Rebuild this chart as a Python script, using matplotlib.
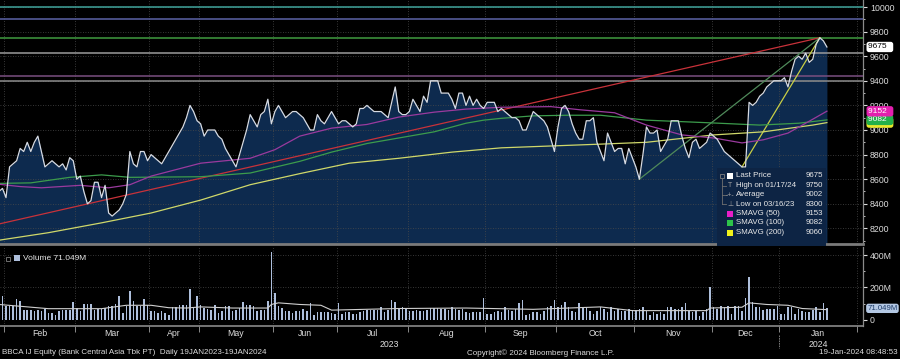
import numpy as np
import matplotlib
matplotlib.use('Agg')
import matplotlib.pyplot as plt
from matplotlib.patches import Rectangle
from matplotlib.lines import Line2D
from matplotlib.transforms import blended_transform_factory
from matplotlib.ticker import FixedLocator, MultipleLocator, FuncFormatter

plt.rcParams['font.family'] = ['Liberation Sans', 'DejaVu Sans']

##### values, x = trading day number (day 0 = 19 Jan 2023)
price_start = 5
price_close = [8750, 8700, 8500, 8525, 8450, 8700, 8725, 8750, 8850, 8825,
               8900, 8825, 8900, 8950, 8825, 8700, 8725, 8750, 8725, 8700,
               8725, 8675, 8775, 8750, 8600, 8625, 8500, 8400, 8425, 8575,
               8575, 8450, 8550, 8325, 8300, 8325, 8350, 8400, 8475, 8825,
               8725, 8700, 8825, 8825, 8750, 8800, 8775, 8750, 8725, 8775,
               8825, 8875, 8925, 8975, 9025, 9100, 9200, 9150, 9075, 9050,
               8950, 9000, 9000, 9000, 8950, 8925, 8850, 8800, 8750, 8700,
               8800, 8900, 9000, 9125, 9075, 9025, 9125, 9150, 9250, 9050,
               9150, 9200, 9150, 9100, 9125, 9150, 9150, 9125, 9100, 9050,
               9000, 9000, 9125, 9075, 9050, 9100, 9150, 9100, 9050, 9075,
               9075, 9050, 9025, 9050, 9175, 9175, 9200, 9175, 9150, 9150,
               9150, 9125, 9100, 9225, 9350, 9150, 9125, 9125, 9150, 9250,
               9200, 9150, 9275, 9225, 9400, 9400, 9400, 9300, 9300, 9300,
               9250, 9175, 9300, 9300, 9200, 9275, 9200, 9250, 9200, 9175,
               9225, 9225, 9225, 9150, 9175, 9150, 9125, 9100, 9100, 9075,
               9000, 9000, 9075, 9150, 9125, 9100, 9075, 9025, 8925, 8825,
               9025, 9175, 9200, 9150, 9050, 8975, 8925, 8925, 9075, 9075,
               9100, 8900, 8825, 8750, 8975, 8900, 8825, 8850, 8850, 8725,
               8850, 8775, 8700, 8600, 8800, 9025, 8975, 8975, 9000, 8825,
               8875, 8925, 9075, 9075, 9075, 8950, 8850, 8775, 8900, 8925,
               8850, 8875, 8900, 8975, 8950, 8925, 8875, 8825, 8800, 8775,
               8750, 8725, 8700, 8700, 9225, 9200, 9225, 9275, 9300, 9350,
               9375, 9400, 9400, 9400, 9425, 9350, 9475, 9575, 9600, 9575,
               9625, 9550, 9575, 9700, 9750, 9725, 9675]

vol_start = 8
volume_m = [147, 84, 84, 84, 126, 115, 63, 63, 63, 52,
            63, 52, 69, 42, 42, 31, 57, 63, 63, 63,
            111, 73, 57, 99, 99, 99, 63, 69, 69, 73,
            84, 84, 99, 147, 42, 84, 178, 115, 84, 84,
            126, 94, 57, 52, 42, 52, 42, 31, 78, 78,
            94, 90, 94, 189, 73, 147, 94, 73, 69, 63,
            94, 42, 52, 84, 84, 52, 63, 73, 111, 94,
            94, 84, 57, 63, 63, 115, 420, 168, 84, 73,
            57, 52, 42, 52, 57,
            67, 57, 105, 29, 50, 46, 46, 46, 40, 36,
            105, 36, 46, 46, 36, 36, 46, 57, 61, 61,
            61, 63, 82, 46, 61, 120, 109, 71, 78, 73,
            57, 57, 61, 57, 57, 61, 73, 73, 73, 67,
            67, 61, 78, 67, 63, 67, 46, 42, 46, 46,
            46, 136, 36, 36, 46, 57, 46, 78, 63, 57,
            67, 105, 120, 29, 36, 46, 46, 36, 57, 78,
            88, 120, 82, 92, 109, 78, 57, 50, 105, 78,
            78, 57, 36, 57,
            78, 67, 46, 78, 57, 67, 57, 57, 67,
            61, 61, 67, 78, 57, 29, 46, 36, 46, 36,
            78, 78, 67, 67, 78, 105, 57, 46, 57, 25,
            46, 67, 204, 78, 67, 88, 78, 88, 36, 88,
            84, 57, 136, 267, 109, 78, 78, 63, 67, 67,
            67, 88, 36, 36, 78, 78, 36, 67, 57, 46,
            50, 63, 78, 50, 105, 71.049]

vol_avg_day = [7, 21, 36, 43, 50, 55, 60, 64, 73, 83, 84, 86, 92, 98, 101,
               120, 139, 158, 168, 177, 186, 207, 208, 217, 219, 224, 230, 234, 241]
vol_avg_m = [95, 69, 69, 90, 90, 75, 73, 80, 73, 73, 95, 105, 95, 90, 60,
             70, 73, 65, 73, 80, 57, 57, 73, 78, 105, 95, 90, 70, 63]

sma50_day = [5, 13, 19, 30, 38, 44, 50, 64, 78, 85, 92, 101, 111, 120, 130, 139,
             149, 163, 171, 181, 190, 200, 209, 217, 223, 230, 235, 241]
sma50 = [8565, 8540, 8530, 8550, 8530, 8555, 8625, 8730, 8770, 8840, 8950, 9015,
         9045, 9105, 9145, 9170, 9185, 9190, 9165, 9140, 9040, 8960, 8935, 8895,
         8920, 8975, 9055, 9153]
sma100_day = [5, 16, 27, 36, 44, 64, 78, 92, 101, 111, 120, 130, 139, 144, 149,
              158, 168, 177, 190, 209, 222, 233, 241]
sma100 = [8565, 8570, 8615, 8635, 8615, 8620, 8650, 8745, 8820, 8890, 8935, 8985,
          9055, 9080, 9095, 9115, 9120, 9120, 9080, 9057, 9040, 9055, 9082]
sma200_day = [5, 21, 36, 50, 64, 78, 92, 106, 120, 135, 149, 163, 177, 190, 209,
              223, 237, 241]
sma200 = [8095, 8165, 8245, 8325, 8430, 8555, 8645, 8730, 8770, 8820, 8855, 8870,
          8885, 8900, 8960, 8985, 9040, 9060]

# trend lines drawn on the chart (start day, end day), (start price, end price)
trend_red = ([0, 239], [8190, 9750])
trend_green = ([188, 239], [8600, 9750])
trend_yellow = ([217, 239], [8700, 9750])

# horizontal level lines
levels = [10000, 9900, 9750, 9625, 9440, 9400]
level_colors = ['#3fa39a', '#5c63a6', '#3f9a3f', '#9a9a9a', '#7a4f80', '#8c8c8c']

month_first_day = [9, 29, 50, 64, 85, 103, 123, 145, 165, 187, 209, 228, 250]
month_names = ['Feb', 'Mar', 'Apr', 'May', 'Jun', 'Jul', 'Aug', 'Sep', 'Oct',
               'Nov', 'Dec', 'Jan']

legend_labels = ['Last Price', 'High on 01/17/24', 'Average', 'Low on 03/16/23',
                 'SMAVG (50)', 'SMAVG (100)', 'SMAVG (200)']
legend_values = ['9675', '9750', '9002', '8300', '9153', '9082', '9060']

TXT = '#dcdcdc'
GRID = '#4a4a4a'
NAVY = '#0d2a4e'


def fxy(x, y):
    # pixel position on the 900x359 picture -> figure fraction
    return x / 900.0, 1 - y / 359.0


fig = plt.figure(figsize=(9, 3.59), dpi=100, facecolor='black')
ax = fig.add_axes([0, 115 / 359, 863 / 900, 244 / 359], facecolor='black')
axv = fig.add_axes([0, 33 / 359, 863 / 900, 79 / 359], facecolor='black')

days = np.arange(price_start, price_start + len(price_close))
vdays = np.arange(vol_start, vol_start + len(volume_m))
bounds = np.array(month_first_day) - 0.5
centers = (bounds[:-1] + bounds[1:]) / 2

################### price panel
ax.fill_between(days, price_close, 7900, color=NAVY, lw=0, zorder=1)
for v in range(8200, 10001, 200):
    ax.axhline(v, color=GRID, lw=0.6, ls=(0, (1, 2)), zorder=2)
for b in bounds:
    ax.axvline(b, color=GRID, lw=0.6, ls=(0, (1, 2)), zorder=2)
for lvl, c in zip(levels, level_colors):
    ax.axhline(lvl, color=c, lw=1.1, zorder=3)

ax.plot(*trend_red, color='#c8323a', lw=0.9, zorder=4)
ax.plot(*trend_green, color='#4f8a5a', lw=0.9, zorder=4)
ax.plot(*trend_yellow, color='#c9cf45', lw=0.9, zorder=4)
ax.plot(sma200_day, sma200, color='#cfd86a', lw=0.9, zorder=4)
ax.plot(sma100_day, sma100, color='#3c9c4c', lw=0.9, zorder=4)
ax.plot(sma50_day, sma50, color='#9a3a9e', lw=0.9, zorder=4)
ax.plot(days, price_close, color='#d6dbe4', lw=0.9, zorder=5)

ax.set_xlim(7.3, 251.2)
ax.set_ylim(8073, 10057)
ax.set_xticks([])
ax.yaxis.tick_right()
ax.yaxis.set_major_locator(FixedLocator(range(8200, 10001, 200)))
ax.yaxis.set_minor_locator(MultipleLocator(100))
ax.tick_params(axis='y', which='major', colors=TXT, labelsize=6.3, length=3, width=0.8, pad=2)
ax.tick_params(axis='y', which='minor', colors=TXT, length=1.5, width=0.6)
for s in ['top', 'left']:
    ax.spines[s].set_visible(False)
ax.spines['right'].set_color('#8a8a8a')
ax.spines['right'].set_linewidth(0.9)
ax.spines['bottom'].set_color('#7a7a7a')
ax.spines['bottom'].set_linewidth(2)

# value boxes on the price axis
tr = blended_transform_factory(ax.transAxes, ax.transData)
boxes = [(9060, '9060', '#e8e82a', 'black'), (9082, '9082', '#22b04a', 'white'),
         (9152, '9152', '#e21fae', 'white'), (9675, '9675', 'white', 'black')]
for yv, s, bg, fg in boxes:
    ax.text(1.006, yv, s + '  ', transform=tr, ha='left', va='center', fontsize=6,
            color=fg, clip_on=False, zorder=10,
            bbox=dict(boxstyle='round,pad=0.2,rounding_size=0.3', fc=bg, ec='none'))

################### volume panel
axv.bar(vdays, volume_m, width=0.45, color='#aebfdc', lw=0, zorder=3)
axv.plot(vol_avg_day, vol_avg_m, color='#cfcfcf', lw=0.8, zorder=4)
for v in [200, 400]:
    axv.axhline(v, color=GRID, lw=0.6, ls=(0, (1, 2)), zorder=1)
for b in bounds:
    axv.axvline(b, color=GRID, lw=0.6, ls=(0, (1, 2)), zorder=1)
axv.set_xlim(7.3, 251.2)
axv.set_ylim(-38, 450)
axv.yaxis.tick_right()
axv.yaxis.set_major_locator(FixedLocator([0, 200, 400]))
axv.yaxis.set_minor_locator(FixedLocator([100, 300]))
axv.yaxis.set_major_formatter(FuncFormatter(lambda v, p: '0' if v == 0 else '%dM' % v))
axv.tick_params(axis='y', which='major', colors=TXT, labelsize=6.3, length=3, width=0.8, pad=2)
axv.tick_params(axis='y', which='minor', colors=TXT, length=1.5, width=0.6)
axv.xaxis.set_major_locator(FixedLocator(centers))
axv.xaxis.set_ticklabels(month_names)
axv.xaxis.set_minor_locator(FixedLocator(bounds))
axv.tick_params(axis='x', which='major', colors=TXT, labelsize=6.3, length=0, pad=2)
axv.tick_params(axis='x', which='minor', color='#8a8a8a', length=4, width=0.7)
for s in ['top', 'left']:
    axv.spines[s].set_visible(False)
axv.spines['right'].set_color('#8a8a8a')
axv.spines['right'].set_linewidth(0.9)
axv.spines['bottom'].set_color('#8a8a8a')
axv.spines['bottom'].set_linewidth(1.2)

trv = blended_transform_factory(axv.transAxes, axv.transData)
axv.text(1.005, volume_m[-1], '%.3fM' % volume_m[-1], transform=trv, ha='left',
         va='center', fontsize=5.6, color='#1c3a66', clip_on=False, zorder=10,
         bbox=dict(boxstyle='round,pad=0.15,rounding_size=0.3', fc='#b4c8e4', ec='none'))

# year labels
ytr = blended_transform_factory(axv.transData, axv.transAxes)
axv.text((7.3 + 227.5) / 2, -0.175, '2023', transform=ytr, ha='center', va='top',
         fontsize=6.3, color=TXT)
axv.text(238.5, -0.175, '2024', transform=ytr, ha='center', va='top', fontsize=6.3, color=TXT)
fig.add_artist(Line2D([fxy(779, 0)[0]] * 2, [fxy(0, 335)[1], fxy(0, 348)[1]],
                      color='#8a8a8a', lw=0.6, ls=(0, (2, 1))))

################### legends
x0, y0 = fxy(717, 246)
fig.add_artist(Rectangle((x0, y0), 109 / 900, 78 / 359, transform=fig.transFigure,
                         fc='#0d2444', ec='none', zorder=2))
row_y = [176, 185.5, 195, 204.5, 213.5, 223, 232.5]
sq_colors = ['white', None, None, None, '#e81ec8', '#2ec44a', '#f2f21a']
for i in range(7):
    fx, fy = fxy(736, row_y[i])
    fig.text(fx, fy, legend_labels[i], ha='left', va='center', fontsize=5.7, color='#e8e8e8', zorder=4)
    fx, fy = fxy(823, row_y[i])
    fig.text(fx, fy, legend_values[i], ha='right', va='center', fontsize=5.7, color='#e8e8e8', zorder=4)
    if sq_colors[i]:
        sx, sy = fxy(727, row_y[i] + 3)
        fig.add_artist(Rectangle((sx, sy), 6 / 900, 6 / 359, transform=fig.transFigure,
                                 fc=sq_colors[i], ec='none', zorder=4))
# little tree and symbols at the left of the price legend
tx, ty = fxy(720, 178)
fig.add_artist(Rectangle((tx, ty), 4 / 900, 4 / 359, transform=fig.transFigure,
                         fc='none', ec='#808080', lw=0.6, zorder=4))
fig.add_artist(Line2D([fxy(722, 0)[0]] * 2, [fxy(0, 178)[1], fxy(0, 204.5)[1]],
                      color='#707070', lw=0.6, zorder=4))
for ry in row_y[1:4]:
    fig.add_artist(Line2D([fxy(722, 0)[0], fxy(726, 0)[0]], [fxy(0, ry)[1]] * 2,
                          color='#707070', lw=0.6, zorder=4))
for ry, sym in zip(row_y[1:4], ['T', '-+-', '⊥']):
    fx, fy = fxy(730, ry)
    fig.text(fx, fy, sym, ha='center', va='center', fontsize=5, color='#a0a0a0', zorder=4)

# volume legend
vx, vy = fxy(6, 261)
fig.add_artist(Rectangle((vx, vy), 4 / 900, 4 / 359, transform=fig.transFigure,
                         fc='none', ec='#808080', lw=0.6, zorder=4))
vx, vy = fxy(14, 261)
fig.add_artist(Rectangle((vx, vy), 6 / 900, 6 / 359, transform=fig.transFigure,
                         fc='#aebfdc', ec='none', zorder=4))
fx, fy = fxy(23, 258)
fig.text(fx, fy, 'Volume 71.049M', ha='left', va='center', fontsize=6, color='#e8e8e8')

################### footer
fx, fy = fxy(2, 353)
fig.text(fx, fy, 'BBCA IJ Equity (Bank Central Asia Tbk PT)  Daily 19JAN2023-19JAN2024',
         ha='left', va='center', fontsize=5.8, color=TXT)
fx, fy = fxy(467, 353)
fig.text(fx, fy, 'Copyright© 2024 Bloomberg Finance L.P.', ha='left', va='center',
         fontsize=5.8, color=TXT)
fx, fy = fxy(898, 353)
fig.text(fx, fy, '19-Jan-2024 08:48:53', ha='right', va='center', fontsize=5.8, color=TXT)

fig.savefig('out.png', dpi=100, facecolor='black')
